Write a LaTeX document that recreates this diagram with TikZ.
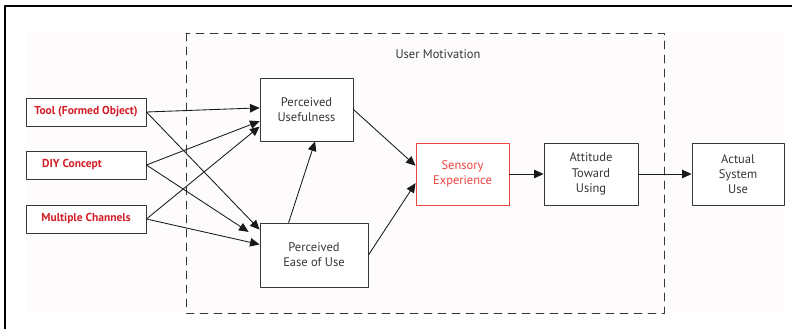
\documentclass[tikz,border=0pt]{standalone}
\usepackage{fontspec}
\setmainfont{PT Sans}
\usepackage{xcolor}
\usetikzlibrary{arrows.meta}
\definecolor{labelred}{RGB}{210,30,40}
\definecolor{boxred}{RGB}{235,70,65}
\definecolor{boxgray}{RGB}{55,55,55}
\definecolor{paper}{RGB}{253,251,251}
\tikzset{
	box/.style={draw=boxgray, line width=0.9pt, fill=white, align=center,
			inner sep=2pt, font=\fontsize{12.5}{15.2}\selectfont, text=boxgray},
	inbox/.style={box, minimum width=120pt, minimum height=28pt,
			font=\fontsize{11.5}{13}\selectfont\bfseries, text=labelred},
	link/.style={->, line width=0.85pt, draw=black!90}
}

\begin{document}
\begin{tikzpicture}[x=1pt, y=-1pt, line cap=round, line join=round,
		>={Triangle[length=9.5pt,width=8.5pt]}]
	\useasboundingbox (0,0) rectangle (792,329);

	% Frame and paper
	\fill[paper] (26,32) rectangle (784,313);
	\draw[line width=2pt, line cap=butt] (5,329) -- (5,6.5) -- (792,6.5);

	% User motivation area
	\draw[dashed, dash pattern=on 8pt off 6pt, line width=0.9pt, boxgray] (186,33) rectangle (664,313);
	\node[font=\fontsize{12.5}{15}\selectfont, text=boxgray, anchor=west] (motiv) at (392,54) {User Motivation};

	% External inputs
	\node[inbox] (tool) at (86,112) {Tool (Formed Object)};
	\node[inbox] (diy) at (86,165) {\hspace*{-28pt}DIY Concept};
	\node[inbox] (channels) at (86,219) {Multiple Channels};

	% Model constructs
	\node[box, minimum width=93pt, minimum height=63pt] (useful) at (306.5,109.5) {Perceived\\Usefulness};
	\node[box, minimum width=108pt, minimum height=64pt] (ease) at (314,255) {Perceived\\Ease of Use};
	\node[box, draw=boxred, text=boxred, minimum width=93pt, minimum height=62pt] (sensory) at (462.5,174) {Sensory\\Experience};
	\node[box, minimum width=94pt, minimum height=62pt] (attitude) at (591,174) {Attitude\\Toward\\Using};
	\node[box, minimum width=92pt, minimum height=62pt] (actual) at (738,174) {Actual\\System\\Use};

	% Inputs to perceptions
	\draw[link] (tool.east) -- (useful.178);
	\draw[link] (tool.east) -- (ease.155);
	\draw[link] (diy.east) -- (useful.194);
	\draw[link] (diy.east) -- ([xshift=-11pt]ease.157);
	\draw[link] (channels.east) -- (useful.200);
	\draw[link] (channels.east) -- (ease.169);

	% Perceptions to experience and use
	\draw[link] (ease.128) -- (useful.285);
	\draw[link] (useful.east) -- (sensory.170);
	\draw[link] (ease.east) -- (sensory.191);
	\draw[link] (sensory.east) -- (attitude.west);
	\draw[link] (attitude.east) -- (actual.west);
\end{tikzpicture}
\end{document}
